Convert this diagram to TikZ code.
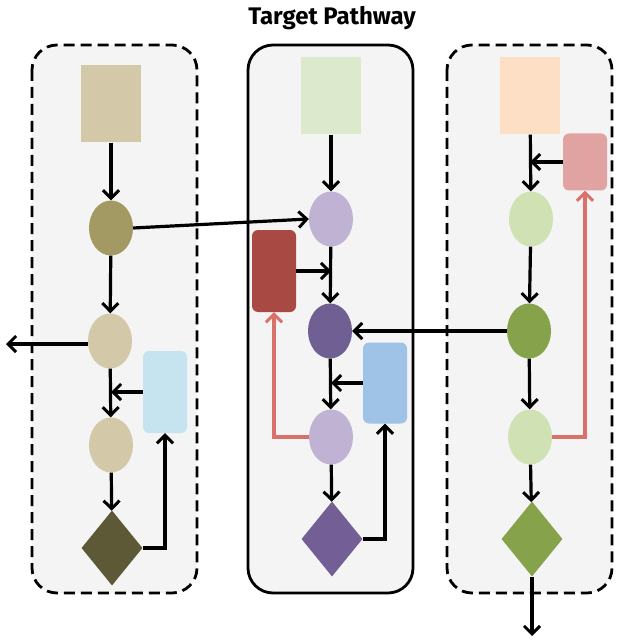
\documentclass[tikz,border=0pt]{standalone}
\usepackage{fontspec}
\newfontfamily\titlefont{Fira Sans}
\usetikzlibrary{shapes.geometric,arrows.meta}
\definecolor{panelbg}{HTML}{F4F4F4}
\definecolor{lbeige}{HTML}{D3C9A8}
\definecolor{lolive}{HTML}{A39963}
\definecolor{ldark}{HTML}{5D5836}
\definecolor{lblue}{HTML}{C6E4EF}
\definecolor{mgreen}{HTML}{DDE9CC}
\definecolor{mlav}{HTML}{BFB2D3}
\definecolor{mpurp}{HTML}{6F5F93}
\definecolor{mdiam}{HTML}{735E95}
\definecolor{mred}{HTML}{A84A43}
\definecolor{mblue}{HTML}{9EC3E7}
\definecolor{rpeach}{HTML}{FDDFC5}
\definecolor{rpink}{HTML}{E0A3A2}
\definecolor{rlgreen}{HTML}{D0E1B3}
\definecolor{rgreen}{HTML}{86A24B}
\definecolor{salmon}{HTML}{D9716A}
\tikzset{
  panel/.style={draw=black, fill=panelbg, line width=2.8pt, rounded corners=25pt},
  dashpanel/.style={panel, dash pattern=on 11pt off 6pt},
  sq/.style={rectangle, inner sep=0pt, minimum width=60pt, minimum height=77pt},
  ell/.style={ellipse, inner sep=0pt, minimum width=44pt, minimum height=55pt},
  rbox/.style={rectangle, rounded corners=6pt, inner sep=0pt, minimum width=44pt},
  dia/.style={diamond, inner sep=0pt, minimum width=61pt, minimum height=75pt},
  tipA/.tip={Straight Barb[length=8pt,width=16pt,line width=3pt]},
  arr/.style={draw=black, line width=3.2pt, -tipA},
  redarr/.style={draw=salmon, line width=3.2pt, -tipA},
}
\begin{document}
\begin{tikzpicture}[x=1pt,y=-1pt]
\useasboundingbox (0,0) rectangle (621,644);
\fill[white] (0,0) rectangle (621,644);
% title
\node (title) at (332,18) {\titlefont\bfseries\fontsize{24}{28}\selectfont Target Pathway};
% panels
\draw[dashpanel] (32,45) rectangle (197,593);
\draw[panel] (248,45) rectangle (413,593);
\draw[dashpanel] (447,45) rectangle (612,593);
% left column
\node[sq, fill=lbeige] (Lsq) at (111,104) {};
\node[ell, fill=lolive] (Le1) at (111,228) {};
\node[ell, fill=lbeige] (Le2) at (110,341) {};
\node[ell, fill=lbeige] (Le3) at (111,445) {};
\node[dia, fill=ldark] (Ld) at (112,548) {};
\node[rbox, fill=lblue, minimum height=82pt] (Lrect) at (165,392) {};
\coordinate (Lout) at (6,344);
% middle column
\node[sq, fill=mgreen] (Msq) at (331,96) {};
\node[ell, fill=mlav] (Me1) at (331,219) {};
\node[ell, fill=mpurp] (Me2) at (330,331) {};
\node[ell, fill=mlav] (Me3) at (331,437) {};
\node[dia, fill=mdiam] (Md) at (332,539) {};
\node[rbox, fill=mred, minimum height=82pt] (Mred) at (274,271) {};
\node[rbox, fill=mblue, minimum height=81pt] (Mblue) at (385,383) {};
% right column
\node[sq, fill=rpeach] (Rsq) at (530,96) {};
\node[ell, fill=rlgreen] (Re1) at (531,219) {};
\node[ell, fill=rgreen] (Re2) at (529,331) {};
\node[ell, fill=rlgreen] (Re3) at (530,437) {};
\node[dia, fill=rgreen] (Rd) at (532,539) {};
\node[rbox, fill=rpink, minimum height=57pt] (Rpink) at (585,162) {};
\coordinate (Rout) at (532,636);
% left connectors
\draw[arr] (Lsq) -- (Le1);
\draw[arr] (Le1) -- (Le2);
\draw[arr] (Le2) -- (Le3);
\draw[arr] (Le3) -- (Ld);
\draw[arr] (Le2.west |- Lout) -- (Lout);
\draw[arr] (Lrect.west) -- (Lrect.west -| Le3.north);
\draw[arr] (Ld.east) -| (Lrect.south);
\draw[arr] (Le1.east) -- (Me1.west);
% middle connectors
\draw[arr] (Msq) -- (Me1);
\draw[arr] (Me1) -- (Me2);
\draw[arr] (Me2) -- (Me3);
\draw[arr] (Me3) -- (Md);
\draw[arr] (Mred.east) -- (Mred.east -| Me1.south);
\draw[arr] (Mblue.west) -- (Mblue.west -| Me3.north);
\draw[redarr] (Me3.west) -| (Mred.south);
\draw[arr] (Md.east) -| (Mblue.south);
\draw[arr] (Re2.west) -- (Me2.east);
% right connectors
\draw[arr] (Rsq) -- (Re1);
\draw[arr] (Re1) -- (Re2);
\draw[arr] (Re2) -- (Re3);
\draw[arr] (Re3) -- (Rd);
\draw[arr] (Rd.south) -- (Rout);
\draw[arr] (Rpink.west) -- (Rpink.west -| Rsq.south);
\draw[redarr] (Re3.east) -| (Rpink.south);
\end{tikzpicture}
\end{document}
